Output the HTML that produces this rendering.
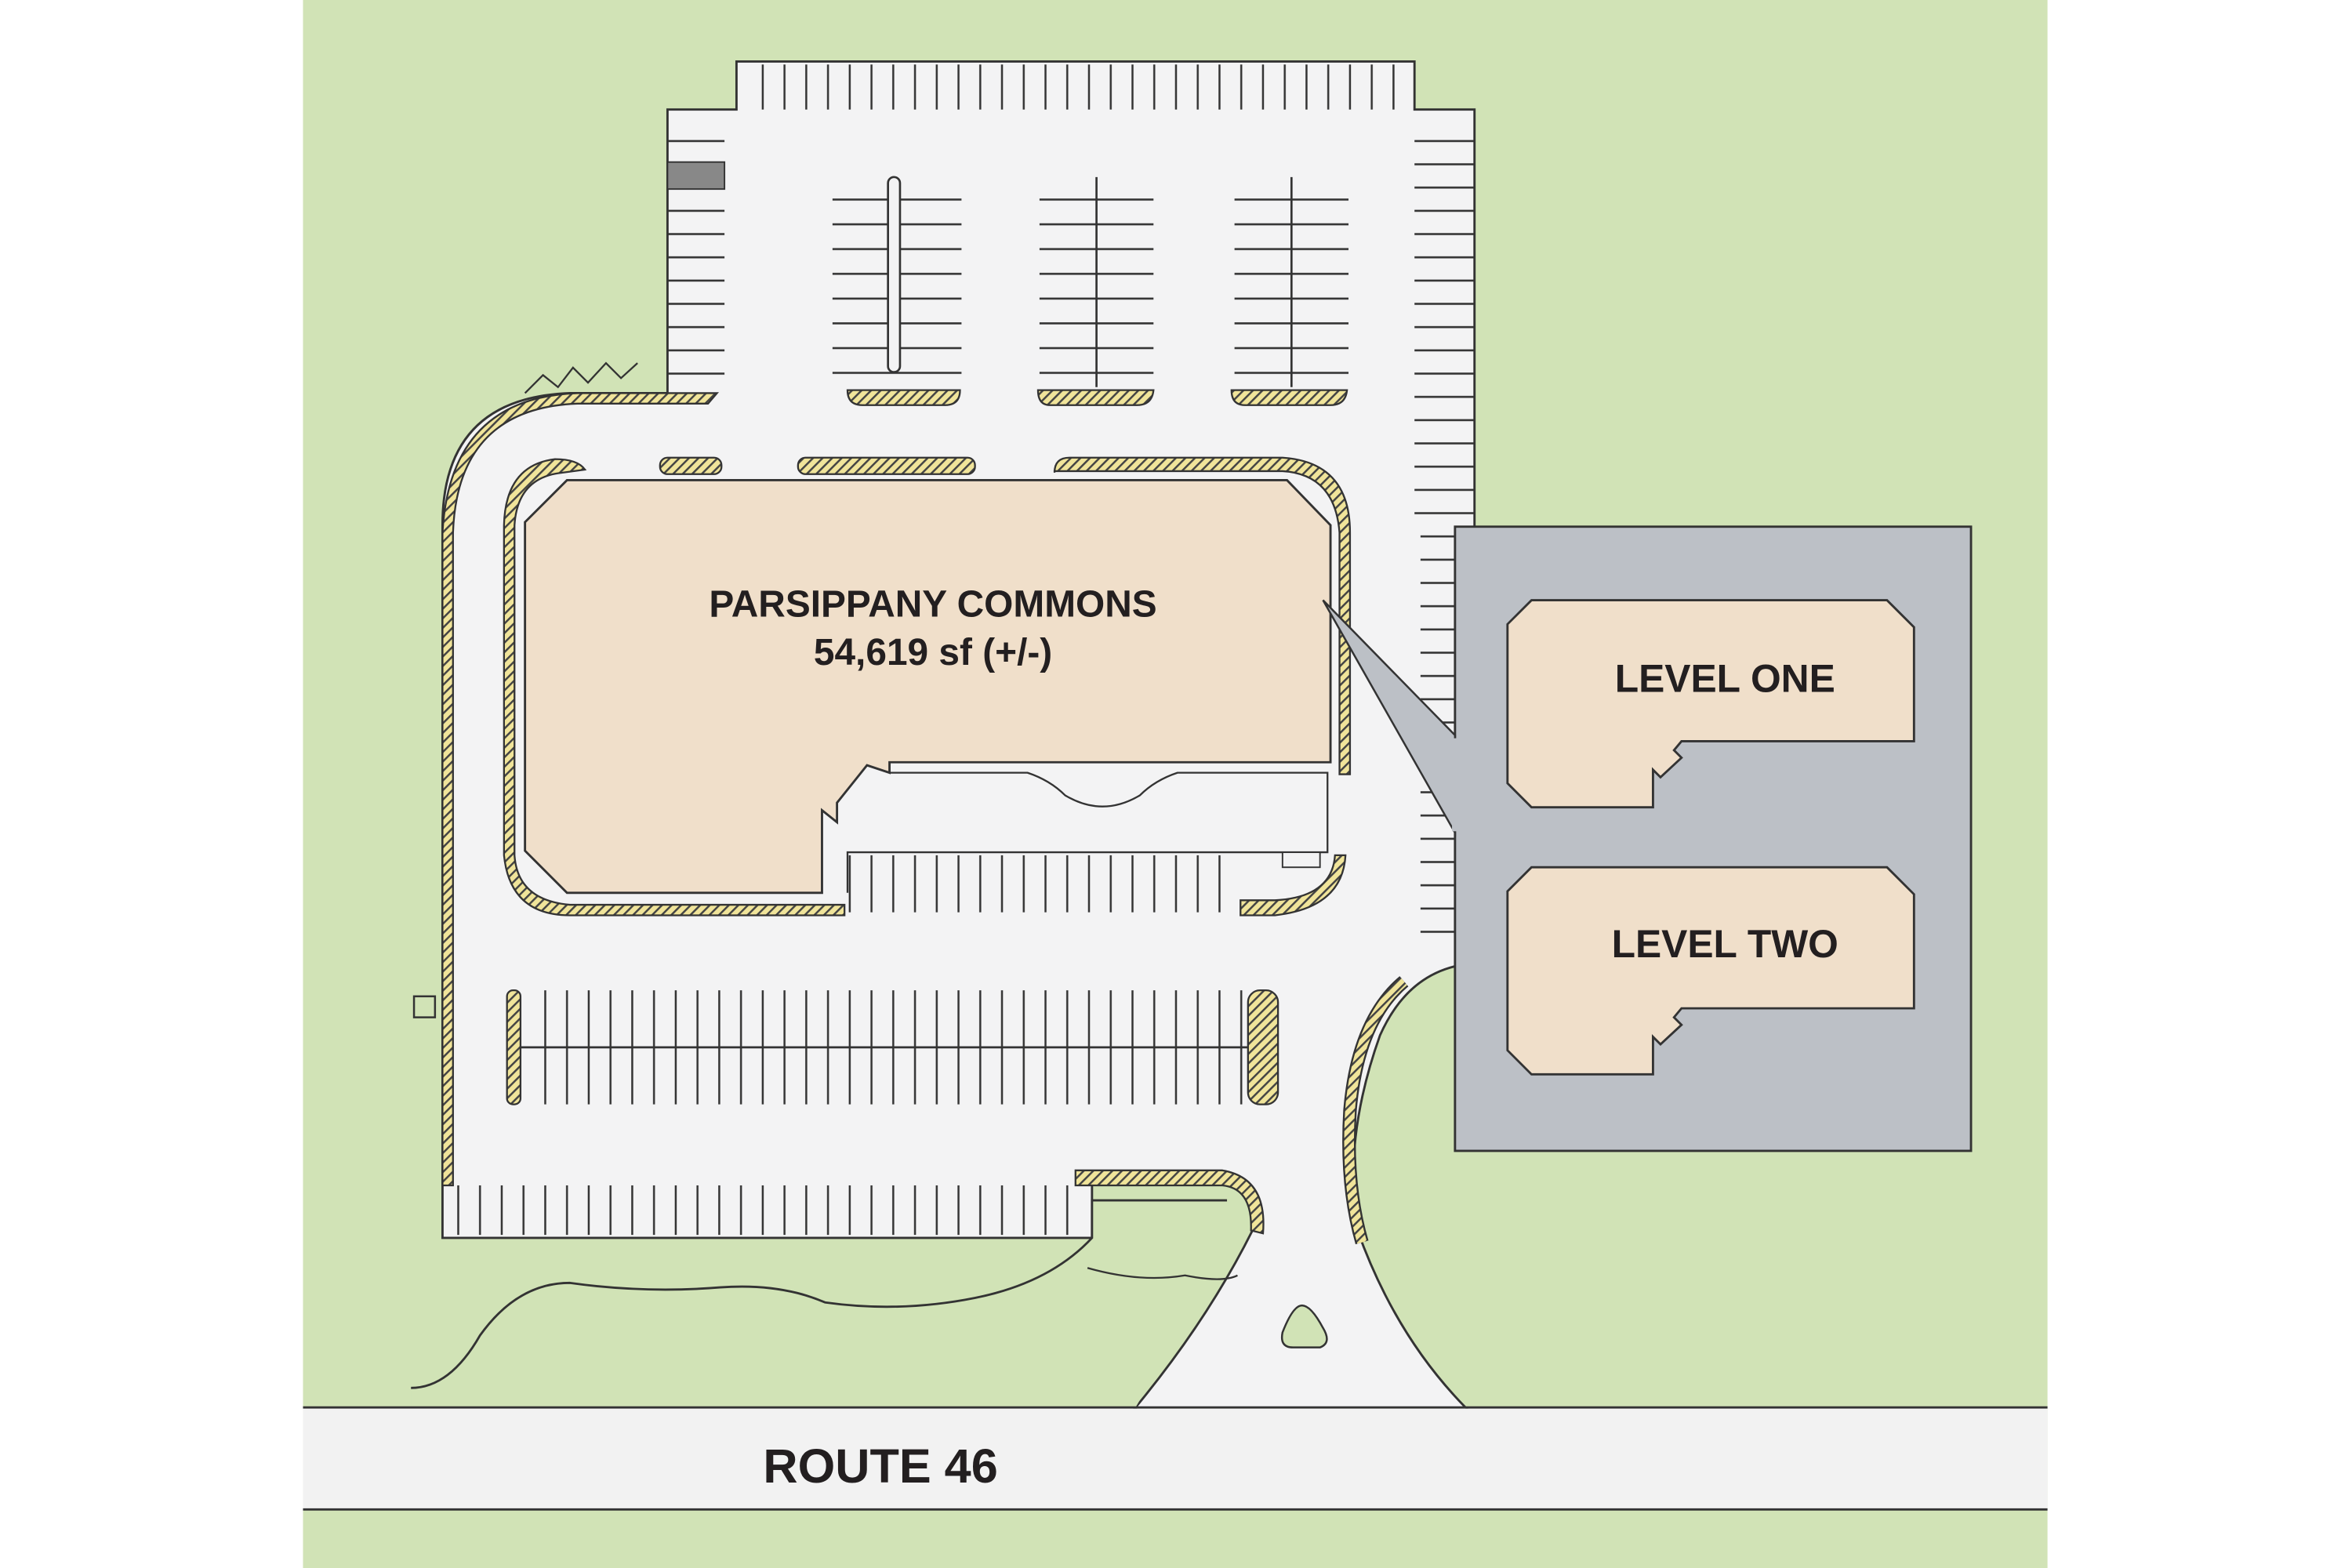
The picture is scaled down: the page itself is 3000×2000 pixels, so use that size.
<!DOCTYPE html>
<html><head><style>html,body{margin:0;padding:0;background:#fff}svg{display:block}</style></head><body>
<svg width="3000" height="2000" viewBox="0 0 1568 1045" preserveAspectRatio="none" xmlns="http://www.w3.org/2000/svg">
<defs>
<pattern id="h" width="4.5" height="4.5" patternUnits="userSpaceOnUse" patternTransform="rotate(45)"><rect width="4.5" height="4.5" fill="#f0e49a"/><rect width="1.3" height="4.5" fill="#444"/></pattern>
<pattern id="vs" width="14.5" height="40" patternUnits="userSpaceOnUse"><line x1="1" y1="0" x2="1" y2="40" stroke="#333" stroke-width="1.3"/></pattern>
<pattern id="hs" width="40" height="15.5" patternUnits="userSpaceOnUse"><line x1="0" y1="1" x2="40" y2="1" stroke="#333" stroke-width="1.3"/></pattern>
<pattern id="hs2" width="80" height="16.5" patternUnits="userSpaceOnUse"><line x1="0" y1="1" x2="80" y2="1" stroke="#333" stroke-width="1.3"/></pattern>
</defs>
<rect x="202" y="0" width="1163" height="1045" fill="#d1e3b6"/>
<rect x="202" y="938" width="1163" height="68" fill="#f2f2f2"/>
<line x1="977" y1="938" x2="1365" y2="938" stroke="#333" stroke-width="1.5"/>
<line x1="202" y1="1006" x2="1365" y2="1006" stroke="#333" stroke-width="1.5"/>
<path d="M491,41 H943 V73 H983 V642 Q940,645 920,690 Q895,760 905,820 Q930,890 977,938 H757 Q805,880 835,820 Q848,790 820,787 H728 V825 H295 V350 Q295,265 380,262 H445 V73 H491 Z" fill="#f3f3f4" stroke="#333" stroke-width="1.5"/>
<path d="M274,925 Q300,925 320,890 Q345,855 380,855 Q430,862 480,858 Q520,855 550,868 Q600,875 650,865 Q700,855 728,825 L728,800 H820 Q815,840 757,938 H274 Z" fill="#d1e3b6"/>
<line x1="202" y1="938" x2="758" y2="938" stroke="#333" stroke-width="1.5"/>
<path d="M274,925 Q300,925 320,890 Q345,855 380,855 Q430,862 480,858 Q520,855 550,868 Q600,875 650,865 Q700,855 728,825 V800 H818" fill="none" stroke="#333" stroke-width="1.5"/>
<path d="M725,845 Q760,855 790,850 Q815,855 825,850" fill="none" stroke="#333" stroke-width="1.2"/>
<rect x="505" y="43" width="436" height="30" fill="url(#vs)"/>
<rect x="445" y="80" width="38" height="180" fill="url(#hs)"/>
<rect x="943" y="80" width="40" height="270" fill="url(#hs)"/>
<rect x="947" y="355" width="23" height="280" fill="url(#hs)"/>
<rect x="555" y="118" width="86" height="140" fill="url(#hs2)"/>
<rect x="693" y="118" width="76" height="140" fill="url(#hs2)"/>
<rect x="823" y="118" width="76" height="140" fill="url(#hs2)"/>
<line x1="731" y1="118" x2="731" y2="258" stroke="#333" stroke-width="1.4"/>
<line x1="861" y1="118" x2="861" y2="258" stroke="#333" stroke-width="1.4"/>
<rect x="592" y="118" width="8" height="130" rx="4" fill="#f3f3f4" stroke="#333" stroke-width="1.4"/>
<rect x="445" y="108" width="38" height="18" fill="#888" stroke="#333"/>
<rect x="565" y="570" width="260" height="38" fill="url(#vs)"/>
<rect x="350" y="660" width="485" height="76" fill="url(#vs)"/>
<line x1="345" y1="698" x2="840" y2="698" stroke="#333" stroke-width="1.4"/>
<rect x="300" y="790" width="415" height="33" fill="url(#vs)"/>
<g fill="url(#h)" stroke="#333" stroke-width="1.2">
<path d="M565,260 H640 Q640,270 630,270 H575 Q565,270 565,260Z"/>
<path d="M692,260 H769 Q768,270 758,270 H700 Q692,270 692,260Z"/>
<path d="M821,260 H898 Q897,270 887,270 H830 Q821,270 821,260Z"/>
<path d="M478,262 H385 Q300,265 295,355 V790 H302 V355 Q305,272 385,269 H472 Z"/>
<path d="M390,313 Q385,306 370,306 Q337,310 336,350 V570 Q340,610 380,610 H563 V603 H380 Q345,600 343,570 V350 Q345,318 375,315Z"/>
<rect x="440" y="305" width="41" height="11" rx="5"/>
<rect x="532" y="305" width="118" height="11" rx="5"/>
<path d="M703,315 Q703,305 713,305 H855 Q900,308 900,355 V516 H893 V355 Q890,316 855,314 H703Z"/>
<path d="M827,600 V610 H850 Q895,605 897,570 H890 Q888,598 850,600Z"/>
<rect x="338" y="660" width="9" height="76" rx="4"/>
<rect x="832" y="660" width="20" height="76" rx="8"/>
<path d="M717,790 V780 H815 Q845,785 842,822 L834,820 Q835,792 815,790Z"/>
</g>
<path d="M936,654 Q905,680 900,740 Q897,790 908,828" fill="none" stroke="#333" stroke-width="9"/>
<path d="M936,654 Q905,680 900,740 Q897,790 908,828" fill="none" stroke="url(#h)" stroke-width="6.5"/>
<path d="M378,320 H858 L887,350 V508 H593 V515 L578,510 L570,520 L558,535 V548 L548,540 V595 H378 L350,567 V348 Z" fill="#f0dfca" stroke="#333" stroke-width="1.5"/>
<path d="M593,515 H685 Q700,520 710,530 Q735,545 760,530 Q770,520 785,515 H885 V568 H565 V595" fill="none" stroke="#333" stroke-width="1.2"/>
<rect x="855" y="568" width="25" height="10" fill="#f3f3f4" stroke="#333"/>
<rect x="970" y="351" width="344" height="416" fill="#bcc0c6" stroke="#333" stroke-width="1.5"/>
<path d="M882,400 L970,490 V555 Z" fill="#bcc0c6" stroke="#333" stroke-width="1.3"/>
<rect x="968" y="492" width="4" height="62" fill="#bcc0c6"/>
<g fill="#f0dfca" stroke="#333" stroke-width="1.5">
<path d="M1021,400 H1258 L1276,418 V494 H1121 L1116,500 L1121,505 L1107,518 L1102,513 V538 H1021 L1005,522 V416Z"/>
<path d="M1021,578 H1258 L1276,596 V672 H1121 L1116,678 L1121,683 L1107,696 L1102,691 V716 H1021 L1005,700 V594Z"/>
</g>
<path d="M350,262 L362,250 L372,258 L382,245 L392,255 L404,242 L414,252 L425,242" fill="none" stroke="#333" stroke-width="1.2"/>
<rect x="276" y="664" width="14" height="14" fill="none" stroke="#333" stroke-width="1.3"/>
<path d="M868,870 Q862,870 855,888 Q853,898 862,898 H880 Q888,895 882,885 Q874,870 868,870Z" fill="#d1e3b6" stroke="#333" stroke-width="1.3"/>
<g font-family="'Liberation Sans',sans-serif" font-weight="bold" fill="#231f20" text-anchor="middle">
<text x="622" y="411" font-size="25">PARSIPPANY COMMONS</text>
<text x="622" y="443" font-size="25">54,619 sf (+/-)</text>
<text x="1150" y="461" font-size="26">LEVEL ONE</text>
<text x="1150" y="638" font-size="26">LEVEL TWO</text>
<text x="587" y="988" font-size="32">ROUTE 46</text>
</g>
</svg>
</body></html>
